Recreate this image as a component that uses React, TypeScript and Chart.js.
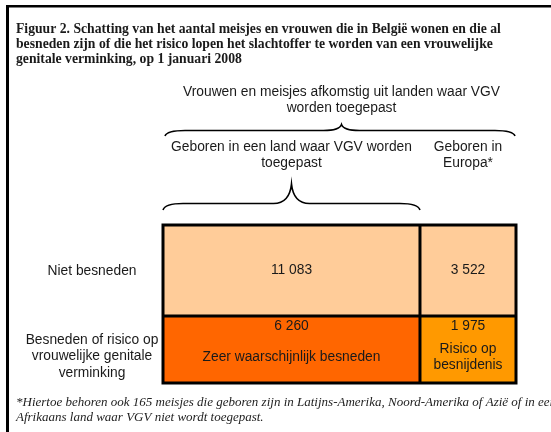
import React, { useEffect, useRef } from "react";
import { Chart, registerables } from "chart.js";

Chart.register(...registerables);

// ---- content ----
const titleLines = [
  "Figuur 2. Schatting van het aantal meisjes en vrouwen die in België wonen en die al",
  "besneden zijn of die het risico lopen het slachtoffer te worden van een vrouwelijke",
  "genitale verminking, op 1 januari 2008",
];
const headerLines = ["Vrouwen en meisjes afkomstig uit landen waar VGV", "worden toegepast"];
const columnLabels = [
  ["Geboren in een land waar VGV worden", "toegepast"],
  ["Geboren in", "Europa*"],
];
const rowLabels = [
  ["Niet besneden"],
  ["Besneden of risico op", "vrouwelijke genitale", "verminking"],
];
const notCutValues = [11083, 3522];
const cutValues = [6260, 1975];
const cutNotes = [["Zeer waarschijnlijk besneden"], ["Risico op", "besnijdenis"]];
const footnoteLines = [
  "*Hiertoe behoren ook 165 meisjes die geboren zijn in Latijns-Amerika, Noord-Amerika of Azië of in een",
  "Afrikaans land waar VGV niet wordt toegepast.",
];

// ---- layout / style ----
const colEdges = [0, 0.728, 1];
const rowEdges = [1, 0.424, 0];
const rowColors = [
  ["#FFCC99", "#FFCC99"],
  ["#FF6600", "#FF9900"],
];
const SANS = "'Liberation Sans', Arial, sans-serif";
const SERIF = "'Liberation Serif', 'Times New Roman', serif";
const TEXT = "#1a1a1a";

const fmt = (n: number) => String(n).replace(/\B(?=(\d{3})+(?!\d))/g, " ");

function brace(
  ctx: CanvasRenderingContext2D,
  x0: number,
  x1: number,
  xm: number,
  yEnd: number,
  yFlat: number,
  yTip: number,
  r: number,
  r2: number
) {
  ctx.beginPath();
  ctx.moveTo(x0, yEnd);
  ctx.quadraticCurveTo(x0 + 2, yFlat, x0 + r, yFlat);
  ctx.lineTo(xm - r2, yFlat);
  ctx.quadraticCurveTo(xm - 2, yFlat, xm, yTip);
  ctx.quadraticCurveTo(xm + 2, yFlat, xm + r2, yFlat);
  ctx.lineTo(x1 - r, yFlat);
  ctx.quadraticCurveTo(x1 - 2, yFlat, x1, yEnd);
  ctx.stroke();
}

function lines(ctx: CanvasRenderingContext2D, arr: string[], x: number, yCenter: number, lh: number) {
  const start = yCenter - ((arr.length - 1) * lh) / 2;
  arr.forEach((t, i) => ctx.fillText(t, x, start + i * lh));
}

const tablePlugin = {
  id: "tablePlugin",
  afterDraw(chart: any) {
    const ctx: CanvasRenderingContext2D = chart.ctx;
    const xs = chart.scales.x;
    const ys = chart.scales.y;
    const X = colEdges.map((v) => xs.getPixelForValue(v));
    const Y = rowEdges.map((v) => ys.getPixelForValue(v));
    ctx.save();

    // outer frame
    ctx.fillStyle = "#000";
    ctx.fillRect(6, 5, 3, 432);
    ctx.fillRect(6, 5, 551, 2.5);

    // title
    ctx.fillStyle = TEXT;
    ctx.font = `bold 13.7px ${SERIF}`;
    ctx.textAlign = "left";
    ctx.textBaseline = "alphabetic";
    titleLines.forEach((t, i) => ctx.fillText(t, 16, 33 + i * 15));

    // cells
    for (let r = 0; r < 2; r++) {
      for (let c = 0; c < 2; c++) {
        ctx.fillStyle = rowColors[r][c];
        ctx.fillRect(X[c], Y[r], X[c + 1] - X[c], Y[r + 1] - Y[r]);
      }
    }
    ctx.strokeStyle = "#000";
    ctx.lineWidth = 3;
    ctx.strokeRect(X[0], Y[0], X[2] - X[0], Y[2] - Y[0]);
    ctx.beginPath();
    ctx.moveTo(X[1], Y[0]);
    ctx.lineTo(X[1], Y[2]);
    ctx.moveTo(X[0], Y[1]);
    ctx.lineTo(X[2], Y[1]);
    ctx.stroke();

    // sans texts
    ctx.fillStyle = TEXT;
    ctx.font = `13.8px ${SANS}`;
    ctx.textAlign = "center";
    ctx.textBaseline = "middle";

    const cx = (c: number) => (X[c] + X[c + 1]) / 2;
    const cy = (r: number) => (Y[r] + Y[r + 1]) / 2;

    // top-row values
    notCutValues.forEach((v, c) => ctx.fillText(fmt(v), cx(c), cy(0)));
    // bottom-row values and notes
    cutValues.forEach((v, c) => ctx.fillText(fmt(v), cx(c), Y[1] + 10));
    cutNotes.forEach((n, c) => lines(ctx, n, cx(c), cy(1) + 8, 16));

    // row labels
    const labelOffsets = [1, 7];
    rowLabels.forEach((l, r) => lines(ctx, l, 92, cy(r) + labelOffsets[r], 16.5));

    // headers
    const mid = (X[0] + X[2]) / 2;
    lines(ctx, headerLines, mid + 2, 100, 16);
    columnLabels.forEach((l, c) => lines(ctx, l, cx(c), 155.5, 16));

    // braces
    ctx.lineWidth = 1.6;
    ctx.strokeStyle = "#000";
    brace(ctx, X[0] + 2, X[2] - 1, mid + 2, 136, 130.5, 124.5, 20, 18);
    brace(ctx, X[0], X[1], cx(0), 210, 203.5, 184, 20, 18);

    // footnote
    ctx.fillStyle = "#222";
    ctx.font = `italic 13px ${SERIF}`;
    ctx.textAlign = "left";
    ctx.textBaseline = "middle";
    footnoteLines.forEach((t, i) => ctx.fillText(t, 16, 403 + i * 15));

    ctx.restore();
  },
};

export default function App() {
  const ref = useRef<HTMLCanvasElement | null>(null);
  useEffect(() => {
    document.body.style.margin = "0";
    const canvas = ref.current!;
    const chart = new Chart(canvas, {
      type: "scatter",
      data: { datasets: [] },
      options: {
        animation: false,
        responsive: false,
        devicePixelRatio: 1,
        layout: { padding: { left: 163, right: 35, top: 225, bottom: 49 } },
        scales: {
          x: { type: "linear", min: 0, max: 1, display: false },
          y: { type: "linear", min: 0, max: 1, display: false },
        },
        plugins: { legend: { display: false }, tooltip: { enabled: false }, title: { display: false } },
      },
      plugins: [tablePlugin],
    });
    return () => chart.destroy();
  }, []);
  return (
    <div style={{ width: 551, height: 432, background: "#fff" }}>
      <canvas ref={ref} width={551} height={432} style={{ display: "block" }} />
    </div>
  );
}
